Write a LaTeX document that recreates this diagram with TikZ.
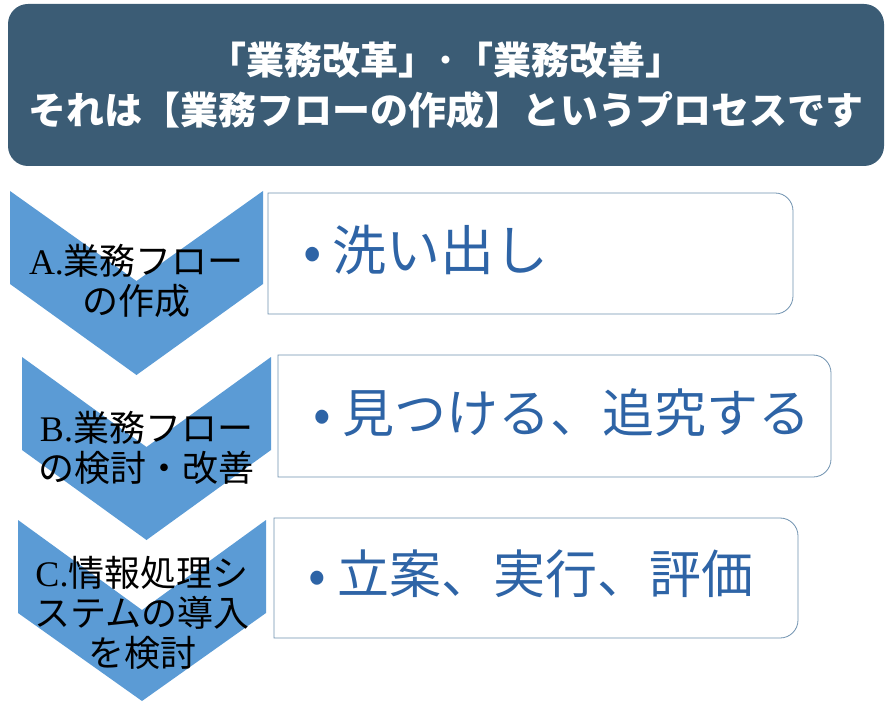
\documentclass[tikz,border=0pt]{standalone}
\usepackage{fontspec}
\setmainfont{Liberation Serif}
\newfontfamily\jp{Noto Sans CJK JP}
\definecolor{titlebg}{RGB}{59,92,117}
\definecolor{chev}{RGB}{91,155,213}
\definecolor{boxline}{RGB}{110,145,175}
\definecolor{boxtext}{RGB}{46,100,166}
\tikzset{
  titlebox/.style={fill=titlebg, rounded corners=20pt, minimum width=876pt, minimum height=162pt,
    text=white, align=center, inner sep=0pt, font=\jp\bfseries\fontsize{38}{50}\selectfont},
  chevfill/.style={fill=chev, draw=none},
  boxdraw/.style={draw=boxline, line width=0.8pt, fill=white},
  chevtxt/.style={align=center, inner sep=0pt, text=black, font=\jp\fontsize{36}{40}\selectfont},
  boxtxt/.style={anchor=base west, inner sep=0pt, text=boxtext, font=\jp\fontsize{52}{60}\selectfont}
}
\begin{document}
\begin{tikzpicture}[x=1pt, y=-1pt]
\useasboundingbox (0,0) rectangle (888,708);
% title
\node[titlebox] (title) at (446,85) {「業務改革」･「業務改善」\\それは【業務フローの作成】というプロセスです};
% chevrons
\fill[chevfill] (10,191) -- (136.5,281) -- (263,191) -- (263,284) -- (136.5,375) -- (10,284) -- cycle;
\fill[chevfill] (22,357) -- (146.5,447) -- (271,357) -- (271,450) -- (146.5,540) -- (22,450) -- cycle;
\fill[chevfill] (18,520) -- (142,610) -- (266,520) -- (266,613) -- (142,701) -- (18,613) -- cycle;
% boxes
\draw[boxdraw] (268,314) -- (268,193) -- (775,193) .. controls (785,193) and (793,201) .. (793,211) -- (793,296) .. controls (793,306) and (785,314) .. (775,314) -- cycle;
\draw[boxdraw] (278,477) -- (278,355) -- (813,355) .. controls (823,355) and (831,363) .. (831,373) -- (831,459) .. controls (831,469) and (823,477) .. (813,477) -- cycle;
\draw[boxdraw] (274,638) -- (274,518) -- (780,518) .. controls (790,518) and (798,526) .. (798,536) -- (798,620) .. controls (798,630) and (790,638) .. (780,638) -- cycle;
% chevron texts
\node[chevtxt] (ca) at (136.5,281) {{\rmfamily A.}業務フロー\\の作成};
\node[chevtxt] (cb) at (146.5,447.5) {{\rmfamily B.}業務フロー\\の検討・改善};
\node[chevtxt] (cc) at (142,612.5) {{\rmfamily C.}情報処理シ\\ステムの導入\\を検討};
% box texts
\node[boxtxt, font=\jp\fontsize{54}{60}\selectfont] (ta) at (292,271) {\makebox[40pt]{•}洗い出し};
\node[boxtxt] (tb) at (302,432) {\makebox[40pt]{•}見つける、追究する};
\node[boxtxt] (tc) at (297,593) {\makebox[40pt]{•}立案、実行、評価};
\end{tikzpicture}
\end{document}
